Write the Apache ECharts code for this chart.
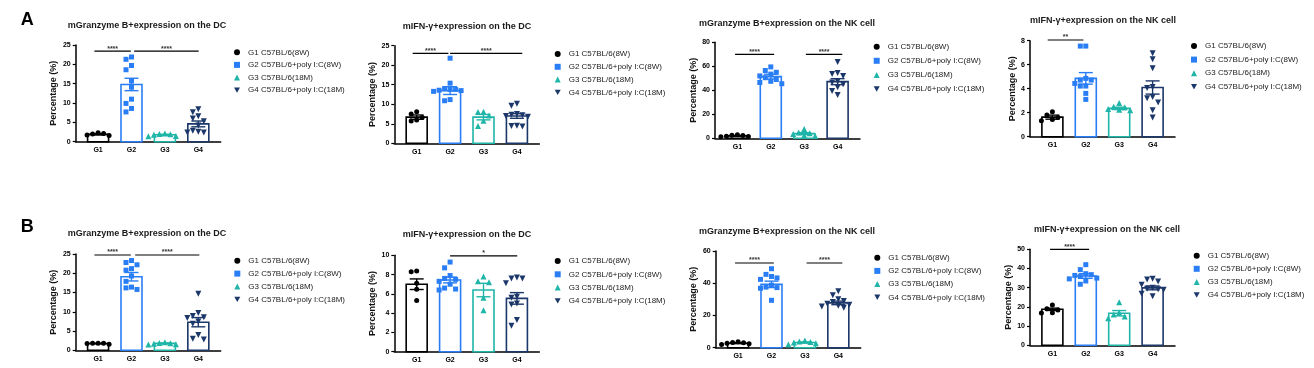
<!DOCTYPE html>
<html><head><meta charset="utf-8">
<script src="https://cdn.jsdelivr.net/npm/echarts@6/dist/echarts.min.js"></script>
<style>html,body{margin:0;padding:0;background:#fff}#c{width:1314px;height:368px}</style>
</head><body><div id="c"></div>
<script>
// ---------- DATA ----------
const GROUPS = ['G1', 'G2', 'G3', 'G4'];
const LEGEND_NAMES = ['G1 C57BL/6(8W)', 'G2 C57BL/6+poly I:C(8W)', 'G3 C57BL/6(18M)', 'G4 C57BL/6+poly I:C(18M)'];
const PANEL_LABELS = ['A', 'B'];
const TITLES = ['mGranzyme B+expression on the DC', 'mIFN-γ+expression on the DC', 'mGranzyme B+expression on the NK cell', 'mIFN-γ+expression on the NK cell',
                'mGranzyme B+expression on the DC', 'mIFN-γ+expression on the DC', 'mGranzyme B+expression on the NK cell', 'mIFN-γ+expression on the NK cell'];
const Y_NAME = 'Percentage (%)';
const Y_MAX = [25, 25, 80, 8, 25, 10, 60, 50];
const Y_STEP = [5, 5, 20, 2, 5, 2, 20, 10];

const A1_MEAN = [1.9, 14.8, 1.8, 4.6];
const A1_SEM = [0.15, 1.6, 0.12, 0.75];
const A1_PTS = [[2.3, 2.0, 2.1, 1.7, 1.6],
                [21.9, 21.3, 19.7, 18.6, 15.7, 14.1, 11.0, 9.9, 8.6, 7.7],
                [2.1, 2.0, 1.9, 1.8, 1.5, 1.4],
                [8.4, 7.6, 6.6, 6.0, 5.3, 4.2, 2.8, 2.6, 2.4, 2.4]];
const A1_SIG = [[0.89, 1.98, 23.4, '****'], [2.08, 4.01, 23.4, '****']];

const A2_MEAN = [6.7, 13.5, 6.7, 7.0];
const A2_SEM = [0.55, 1.0, 0.7, 0.6];
const A2_PTS = [[8.1, 7.5, 6.6, 6.0, 5.7],
                [21.8, 15.4, 14.0, 13.8, 13.8, 13.6, 13.5, 13.3, 11.2, 10.9],
                [8.1, 8.0, 7.1, 5.8, 4.4],
                [10.1, 9.6, 7.5, 7.3, 7.2, 7.0, 6.8, 4.5, 4.4, 4.3]];
const A2_SIG = [[0.88, 1.95, 23.05, '****'], [2.0, 4.16, 23.05, '****']];

const A3_MEAN = [2.0, 51.4, 3.9, 47.2];
const A3_SEM = [0.3, 2.0, 0.8, 2.5];
const A3_PTS = [[3.0, 2.6, 2.3, 1.8, 1.5, 1.2],
                [59.5, 56.5, 55.0, 53.5, 52.0, 50.5, 49.0, 47.5, 46.5, 45.5],
                [7.8, 4.8, 4.2, 3.5, 2.5, 2.0],
                [63.5, 54.5, 53.5, 52.0, 47.5, 46.5, 45.0, 42.5, 39.5, 36.0]];
const A3_SIG = [[0.93, 2.10, 70, '****'], [3.05, 4.14, 70, '****']];

const A4_MEAN = [1.63, 4.86, 2.36, 4.1];
const A4_SEM = [0.17, 0.48, 0.1, 0.55];
const A4_PTS = [[2.08, 1.8, 1.6, 1.44, 1.33],
                [7.55, 7.55, 4.86, 4.72, 4.72, 4.44, 4.22, 4.22, 3.61, 3.11],
                [2.8, 2.5, 2.45, 2.3, 2.25, 2.2],
                [6.95, 6.45, 5.7, 4.15, 4.05, 3.3, 3.2, 2.85, 2.2, 1.6]];
const A4_SIG = [[0.86, 1.93, 8.06, '**']];

const B1_MEAN = [1.75, 19.1, 1.8, 7.3];
const B1_SEM = [0.05, 1.1, 0.1, 1.2];
const B1_PTS = [[1.85, 1.8, 1.8, 1.75, 1.6],
                [23.3, 22.8, 22.2, 21.2, 20.8, 19.3, 17.9, 16.4, 16.2, 15.8],
                [2.1, 1.9, 1.8, 1.7, 1.6, 1.5],
                [14.7, 9.7, 8.9, 8.6, 8.4, 7.5, 6.9, 4.0, 3.0, 2.8]];
const B1_SIG = [[0.89, 1.98, 24.74, '****'], [2.11, 4.03, 24.74, '****']];

const B2_MEAN = [7.0, 7.44, 6.4, 5.53];
const B2_SEM = [0.55, 0.3, 0.7, 0.6];
const B2_PTS = [[8.37, 8.3, 7.1, 6.47, 5.3],
                [9.3, 8.7, 7.9, 7.6, 7.5, 7.3, 7.0, 6.6, 6.5, 6.4],
                [7.8, 7.3, 7.2, 5.6, 4.3],
                [7.7, 7.6, 7.6, 7.1, 5.7, 5.6, 5.0, 4.9, 3.3, 2.7]];
const B2_SIG = [[2.0, 4.01, 9.93, '*']];

const B3_MEAN = [2.8, 39.3, 3.2, 27.8];
const B3_SEM = [0.3, 2.0, 0.35, 1.1];
const B3_PTS = [[3.7, 3.2, 3.0, 2.8, 2.5, 2.0],
                [49.0, 45.5, 44.2, 43.3, 42.4, 38.8, 37.6, 37.3, 36.9, 29.4],
                [4.5, 3.8, 3.5, 3.2, 2.8, 2.0],
                [35.0, 32.5, 30.0, 29.0, 28.3, 27.3, 26.6, 26.1, 25.5, 24.8]];
const B3_SIG = [[0.91, 2.07, 52.55, '****'], [3.05, 4.12, 52.55, '****']];

const B4_MEAN = [18.75, 36.1, 16.7, 29.9];
const B4_SEM = [0.6, 1.2, 1.4, 1.0];
const B4_PTS = [[21.0, 19.1, 18.4, 17.0, 16.8],
                [42.0, 39.4, 37.3, 36.8, 36.4, 35.8, 35.0, 34.6, 33.5, 31.8],
                [22.4, 17.1, 16.0, 15.0, 14.1],
                [34.6, 34.3, 33.2, 31.5, 30.0, 29.5, 29.2, 28.9, 26.9, 25.6]];
const B4_SIG = [[0.93, 2.10, 50.0, '****']];

// ---------- STYLE / LAYOUT ----------
const FONT = '"Liberation Sans", Arial, Helvetica, sans-serif';
const COLORS = ['#000000', '#2a7ef5', '#1fb5a8', '#1c3769'];
const SYMBOLS = ['circle', 'rect', 'triangle', 'path://M0,0L10,0L5,9Z'];
const SYM_SIZE = [5, 5, 6, 6];
const X_MIN = 0.33, X_MAX = 4.67, GRID_W = 145;
const LAYOUT = [
  {left: 75.7, top: 45, h: 96.7, title: [147, 25.3], legend: [234, 47.3, 2.6], gap: 17.4},
  {left: 394.3, top: 45.7, h: 97.6, title: [467, 26.7], legend: [554.7, 49, 2.8], gap: 17.6},
  {left: 715, top: 42.3, h: 96, title: [787, 23.3], legend: [873.7, 41.7, 4.1], gap: 17.3},
  {left: 1030, top: 40.7, h: 96, title: [1103, 21], legend: [1191, 41, 3.6], gap: 11.7},
  {left: 75.7, top: 254, h: 96.3, title: [147, 234], legend: [234.3, 255.7, 2.9], gap: 17.4},
  {left: 394.3, top: 255.3, h: 96.4, title: [467, 235], legend: [554.7, 256, 3.3], gap: 17.6},
  {left: 715.7, top: 251, h: 96.7, title: [787, 231.3], legend: [874.3, 252.7, 3.2], gap: 18},
  {left: 1030, top: 249.3, h: 96, title: [1107, 230], legend: [1193.7, 250.7, 3.1], gap: 11.7}
];
const LABEL_POS = [[20.7, 20], [20.7, 226.7]];

const PANELS = [
  {mean: A1_MEAN, sem: A1_SEM, pts: A1_PTS, sig: A1_SIG},
  {mean: A2_MEAN, sem: A2_SEM, pts: A2_PTS, sig: A2_SIG},
  {mean: A3_MEAN, sem: A3_SEM, pts: A3_PTS, sig: A3_SIG},
  {mean: A4_MEAN, sem: A4_SEM, pts: A4_PTS, sig: A4_SIG},
  {mean: B1_MEAN, sem: B1_SEM, pts: B1_PTS, sig: B1_SIG},
  {mean: B2_MEAN, sem: B2_SEM, pts: B2_PTS, sig: B2_SIG},
  {mean: B3_MEAN, sem: B3_SEM, pts: B3_PTS, sig: B3_SIG},
  {mean: B4_MEAN, sem: B4_SEM, pts: B4_PTS, sig: B4_SIG}
];

// deterministic beeswarm: horizontal offsets (px) so points don't overlap
function swarm(vals, pxPerY) {
  const placed = [];
  const cands = [0];
  for (let k = 1; k < 12; k++) cands.push(-k * 5.5, k * 5.5);
  return vals.map(v => {
    const py = v * pxPerY;
    for (const dx of cands) {
      if (placed.every(p => Math.abs(p.dx - dx) >= 5 || Math.abs(p.py - py) >= 6)) {
        placed.push({dx, py});
        return dx;
      }
    }
    return 0;
  });
}

function setAlign(style, a, v) {
  style.align = a; style.textAlign = a; style.verticalAlign = v; style.textVerticalAlign = v;
  return style;
}

const grid = [], xAxis = [], yAxis = [], series = [], legend = [], graphic = [];
PANELS.forEach((p, k) => {
  const L = LAYOUT[k];
  grid.push({left: L.left, top: L.top, width: GRID_W, height: L.h, containLabel: false});
  xAxis.push({
    type: 'value', gridIndex: k, min: X_MIN, max: X_MAX, splitLine: {show: false},
    axisLine: {show: true, onZero: false, lineStyle: {color: '#000', width: 1.5}},
    axisTick: {show: false},
    axisLabel: {customValues: [1, 2, 3, 4], formatter: v => GROUPS[Math.round(v) - 1] || '',
      fontSize: 7, fontWeight: 'bold', color: '#000', fontFamily: FONT, margin: 5}
  });
  yAxis.push({
    type: 'value', gridIndex: k, min: 0, max: Y_MAX[k], interval: Y_STEP[k],
    name: Y_NAME, nameLocation: 'middle', nameGap: L.gap,
    nameTextStyle: {fontSize: 9, fontWeight: 'bold', color: '#111', fontFamily: FONT},
    axisLine: {show: true, lineStyle: {color: '#000', width: 1.5}},
    axisTick: {show: true, length: 3, lineStyle: {color: '#000', width: 1.2}},
    splitLine: {show: false},
    axisLabel: {fontSize: 7, fontWeight: 'bold', color: '#000', fontFamily: FONT, margin: 5}
  });
  legend.push({
    orient: 'vertical', left: L.legend[0], top: L.legend[1], itemGap: L.legend[2],
    itemWidth: 6, itemHeight: 6, padding: 0, selectedMode: false, data: LEGEND_NAMES,
    textStyle: {fontSize: 8, color: '#222', fontFamily: FONT, lineHeight: 10, padding: [0, 0, 0, 3]}
  });
  graphic.push({type: 'text', x: L.title[0], y: L.title[1], silent: true,
    style: setAlign({text: TITLES[k], font: 'bold 9px ' + FONT, fill: '#1a1a1a'}, 'center', 'middle')});

  // bars
  series.push({
    type: 'custom', xAxisIndex: k, yAxisIndex: k, z: 2, silent: true,
    data: p.mean.map((m, i) => [i + 1, m]),
    renderItem: (params, api) => {
      const i = params.dataIndex;
      const x = api.value(0), y = api.value(1);
      const b = api.coord([x, 0]), t = api.coord([x, y]);
      return {type: 'rect', shape: {x: b[0] - 10.5, y: t[1], width: 21, height: b[1] - t[1]},
        style: {fill: '#fff', stroke: COLORS[i], lineWidth: 1.6}};
    }
  });
  // points
  const pxY = L.h / Y_MAX[k], pxX = GRID_W / (X_MAX - X_MIN);
  p.pts.forEach((vals, g) => {
    const offs = swarm(vals, pxY);
    series.push({
      type: 'scatter', name: LEGEND_NAMES[g], xAxisIndex: k, yAxisIndex: k, z: 3,
      symbol: SYMBOLS[g], symbolSize: SYM_SIZE[g], itemStyle: {color: COLORS[g], opacity: 1},
      data: vals.map((v, j) => [g + 1 + offs[j] / pxX, v])
    });
  });
  // error bars (mean ± SEM)
  series.push({
    type: 'custom', xAxisIndex: k, yAxisIndex: k, z: 4, silent: true,
    encode: {x: 0, y: 1},
    data: p.mean.map((m, i) => [i + 1, m, p.sem[i]]),
    renderItem: (params, api) => {
      const i = params.dataIndex;
      const x = api.value(0), m = api.value(1), s = api.value(2);
      const hi = api.coord([x, m + s]), lo = api.coord([x, m - s]);
      const st = {stroke: COLORS[i], lineWidth: 1.4};
      const hw = 7;
      return {type: 'group', children: [
        {type: 'line', shape: {x1: hi[0], y1: hi[1], x2: lo[0], y2: lo[1]}, style: st},
        {type: 'line', shape: {x1: hi[0] - hw, y1: hi[1], x2: hi[0] + hw, y2: hi[1]}, style: st},
        {type: 'line', shape: {x1: lo[0] - hw, y1: lo[1], x2: lo[0] + hw, y2: lo[1]}, style: st}
      ]};
    }
  });
  // significance brackets
  series.push({
    type: 'custom', xAxisIndex: k, yAxisIndex: k, z: 5, silent: true, clip: false,
    encode: {x: [0, 1], y: 2},
    data: p.sig.map(s => [s[0], s[1], s[2]]),
    renderItem: (params, api) => {
      const y = api.value(2);
      const a = api.coord([api.value(0), y]), b = api.coord([api.value(1), y]);
      const lab = p.sig[params.dataIndex][3];
      return {type: 'group', children: [
        {type: 'line', shape: {x1: a[0], y1: a[1], x2: b[0], y2: b[1]}, style: {stroke: '#000', lineWidth: 1.2}},
        {type: 'text', x: (a[0] + b[0]) / 2, y: a[1] + 1,
          style: setAlign({text: lab, font: 'bold 7px ' + FONT, fill: '#333'}, 'center', 'bottom')}
      ]};
    }
  });
});
PANEL_LABELS.forEach((t, i) => {
  graphic.push({type: 'text', x: LABEL_POS[i][0], y: LABEL_POS[i][1], silent: true,
    style: setAlign({text: t, font: 'bold 18px ' + FONT, fill: '#000'}, 'left', 'middle')});
});

const chart = echarts.init(document.getElementById('c'), null, {renderer: 'canvas'});
chart.setOption({
  animation: false,
  backgroundColor: '#fff',
  grid, xAxis, yAxis, series, legend, graphic,
  tooltip: {show: false}
});
</script>
</body></html>
